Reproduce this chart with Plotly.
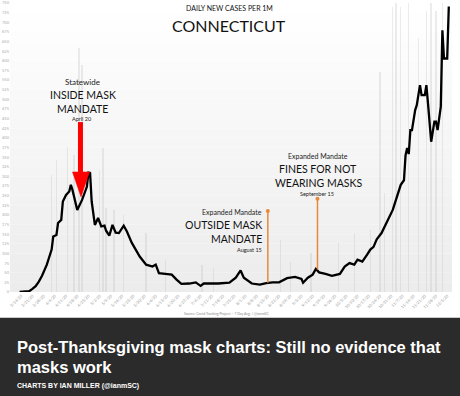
import plotly.graph_objects as go

# 7-day average daily new cases per 1M
line_dates = [
    "2020-03-13", "2020-03-19", "2020-03-21", "2020-03-23", "2020-03-25", "2020-03-27",
    "2020-03-30", "2020-04-01", "2020-04-02", "2020-04-03", "2020-04-05", "2020-04-06",
    "2020-04-08", "2020-04-09", "2020-04-11", "2020-04-13", "2020-04-14", "2020-04-15",
    "2020-04-18", "2020-04-21", "2020-04-24", "2020-04-25", "2020-04-26", "2020-04-27",
    "2020-04-29", "2020-05-01", "2020-05-03", "2020-05-05", "2020-05-06", "2020-05-08",
    "2020-05-10", "2020-05-12", "2020-05-14", "2020-05-17", "2020-05-19", "2020-05-22",
    "2020-05-27", "2020-05-31", "2020-06-04", "2020-06-06", "2020-06-08", "2020-06-12",
    "2020-06-16", "2020-06-19", "2020-06-22", "2020-06-27", "2020-07-01", "2020-07-04",
    "2020-07-06", "2020-07-15", "2020-07-22", "2020-07-26", "2020-07-29", "2020-07-31",
    "2020-08-05", "2020-08-10", "2020-08-14", "2020-08-18", "2020-08-22", "2020-08-27",
    "2020-09-01", "2020-09-05", "2020-09-06", "2020-09-09", "2020-09-12", "2020-09-14",
    "2020-09-16", "2020-09-20", "2020-09-24", "2020-09-29", "2020-10-02", "2020-10-05",
    "2020-10-08", "2020-10-10", "2020-10-13", "2020-10-16", "2020-10-18", "2020-10-20",
    "2020-10-22", "2020-10-25", "2020-10-28", "2020-10-30", "2020-11-01", "2020-11-03",
    "2020-11-06", "2020-11-08", "2020-11-09", "2020-11-10", "2020-11-11", "2020-11-12",
    "2020-11-13", "2020-11-15", "2020-11-16", "2020-11-18", "2020-11-19", "2020-11-21",
    "2020-11-22", "2020-11-23", "2020-11-25", "2020-11-27", "2020-11-28", "2020-11-29",
    "2020-12-01", "2020-12-02", "2020-12-03", "2020-12-05", "2020-12-06",
]
line_values = [
    0, 2, 8, 15, 27, 42,
    71, 101, 110, 144, 148, 179,
    187, 235, 252, 261, 278, 265,
    213, 239, 273, 310, 309, 235,
    174, 192, 170, 172, 159, 146,
    174, 154, 153, 172, 157, 128,
    92, 71, 66, 71, 49, 47,
    45, 32, 21, 22, 25, 16,
    22, 22, 24, 37, 56, 37,
    22, 19, 23, 25, 25, 36,
    39, 34, 24, 37, 45, 60,
    51, 47, 42, 47, 66, 75,
    71, 84, 79, 97, 110, 117,
    137, 153, 179, 196, 213, 239,
    278, 290, 355, 374, 358, 420,
    420, 472, 485, 537, 511, 511,
    537, 490, 390, 442, 442, 420,
    481, 679, 606, 606, 741,
]

# faint daily bars visible behind the line
bar_dates = [
    "2020-04-02", "2020-04-05", "2020-04-12", "2020-04-16", "2020-04-19", "2020-04-21",
    "2020-05-02", "2020-05-04", "2020-05-06", "2020-05-11", "2020-05-17", "2020-05-31",
    "2020-06-12", "2020-07-05", "2020-07-12", "2020-08-23", "2020-08-29", "2020-09-11",
    "2020-09-28", "2020-10-08", "2020-10-18", "2020-10-24", "2020-10-27", "2020-11-01",
    "2020-11-03", "2020-11-06", "2020-11-11", "2020-11-17", "2020-11-22", "2020-11-25",
    "2020-11-28", "2020-12-02",
]
bar_values = [
    304, 342, 376, 356, 632, 588,
    317, 373, 218, 213, 200, 154,
    84, 71, 63, 136, 78, 101,
    128, 153, 161, 571, 257, 739,
    750, 739, 750, 659, 730, 750,
    730, 750,
]

# mandate markers
mandate_dates = ["2020-08-15", "2020-09-15"]
mandate_low = [24, 58]
mandate_high = [210, 242]
arrow_date = "2020-04-20"
arrow_top = 441
arrow_tip = 247

y_tick_values = list(range(0, 751, 25))

# plot geometry (pixels)
W, H = 460, 396
L, R, T, B = 10, 452, 2.7, 292.3


def px(x):
    return (x - L) / (R - L)


def py(y):
    return (B - y) / (B - T)


fig = go.Figure()

fig.add_trace(go.Bar(
    x=bar_dates, y=bar_values, width=86400000 * 0.9,
    marker=dict(color="rgba(185,185,185,0.28)", line=dict(width=0)),
    hoverinfo="skip", showlegend=False,
))

fig.add_trace(go.Scatter(
    x=line_dates, y=line_values, mode="lines",
    line=dict(color="#000000", width=2.3), showlegend=False, cliponaxis=False,
))

shapes = []
# background gradient in plot area
n = 30
for i in range(n):
    f = i / (n - 1)
    g = int(round(236 + (255 - 236) * f))
    shapes.append(dict(
        type="rect", xref="x domain", yref="y domain",
        x0=0, x1=1, y0=i / n, y1=(i + 1) / n,
        fillcolor=f"rgb({g},{g},{g})", line=dict(width=0), layer="below",
    ))

# orange mandate lines
for d, lo, hi in zip(mandate_dates, mandate_low, mandate_high):
    shapes.append(dict(
        type="line", xref="x", yref="y", x0=d, x1=d, y0=lo, y1=hi,
        line=dict(color="#e8893a", width=1.5), layer="above",
    ))

# red arrow shaft
shapes.append(dict(
    type="line", xref="x", yref="y", x0=arrow_date, x1=arrow_date,
    y0=arrow_top, y1=arrow_tip + 60,
    line=dict(color="#ff0000", width=5), layer="above",
))
# red arrow head (paper coordinates)
tipx, tipy = 81, 197
shapes.append(dict(
    type="path", xref="paper", yref="paper",
    path=(f"M {px(tipx - 8.5)} {py(172)} L {px(tipx + 8.5)} {py(172)} "
          f"L {px(tipx)} {py(tipy)} Z"),
    fillcolor="#ff0000", line=dict(color="#ff0000", width=0.5), layer="above",
))

# bottom banner
shapes.append(dict(
    type="rect", xref="paper", yref="paper",
    x0=px(-2), x1=px(W + 2), y0=py(H + 2), y1=py(318),
    fillcolor="#2b2b2b", line=dict(width=0), layer="above",
))

fig.add_trace(go.Scatter(
    x=mandate_dates, y=mandate_high, mode="markers",
    marker=dict(color="#e8893a", size=4), showlegend=False,
))

CH = "Lato"
annotations = []


def ann(text, x, y, size, color="#111111", family=CH, xanchor="center", bold=False):
    if bold:
        text = f"<b>{text}</b>"
    annotations.append(dict(
        text=text, x=px(x), y=py(y), xref="paper", yref="paper",
        xanchor=xanchor, yanchor="middle", showarrow=False,
        font=dict(size=size, color=color, family=family),
    ))


ann("DAILY NEW CASES PER 1M", 229, 8, 7)
ann("CONNECTICUT", 229, 25, 16)

ann("Statewide", 82, 82, 8, color="#222222")
ann("INSIDE MASK", 83, 95, 10.5)
ann("MANDATE", 82, 109, 10.5)
ann("April 20", 82, 119, 5.5, color="#222222")

ann("Expanded Mandate", 264, 212, 7, color="#222222", xanchor="right")
ann("OUTSIDE MASK", 264, 225, 10.5, xanchor="right")
ann("MANDATE", 264, 239, 10.5, xanchor="right")
ann("August 15", 264, 250, 5.5, color="#222222", xanchor="right")

ann("Expanded Mandate", 318, 156, 7, color="#222222")
ann("FINES FOR NOT", 318, 169, 10.5)
ann("WEARING MASKS", 318, 183, 10.5)
ann("September 15", 317, 194, 5.5, color="#222222")

ann("Source: Covid Tracking Project \u2013 7 Day Avg. / @ianmSC", 226, 314, 3.5, color="#888888")

BF = "Liberation Sans"
ann("Post-Thanksgiving mask charts: Still no evidence that", 15, 347, 16.5,
    color="#ffffff", family=BF, xanchor="left", bold=True)
ann("masks work", 15, 367, 16.5, color="#ffffff", family=BF, xanchor="left", bold=True)
ann("CHARTS BY IAN MILLER (@ianmSC)", 15, 386, 7, color="#ffffff", family=BF,
    xanchor="left", bold=True)

fig.update_layout(
    width=W, height=H,
    margin=dict(l=L, r=W - R, t=T, b=H - B, autoexpand=False),
    paper_bgcolor="#ffffff", plot_bgcolor="#ffffff",
    shapes=shapes, annotations=annotations, bargap=0,
    xaxis=dict(
        type="date", range=["2020-03-07", "2020-12-08"],
        tick0="2020-03-07", dtick=7 * 86400000, tickformat="%-m/%-d/%y",
        tickangle=-45, tickfont=dict(size=4, color="#999999", family=CH),
        showgrid=False, zeroline=False, showline=False, ticks="",
        automargin=False,
    ),
    yaxis=dict(
        range=[0, 750], tickvals=y_tick_values,
        tickfont=dict(size=4, color="#aaaaaa", family=CH),
        showgrid=False, zeroline=False, showline=False, ticks="",
        automargin=False,
    ),
)

fig.write_html(
    "out.html",
    config={"displayModeBar": False},
    post_script="document.body.style.margin='0';document.body.style.padding='0';",
)
